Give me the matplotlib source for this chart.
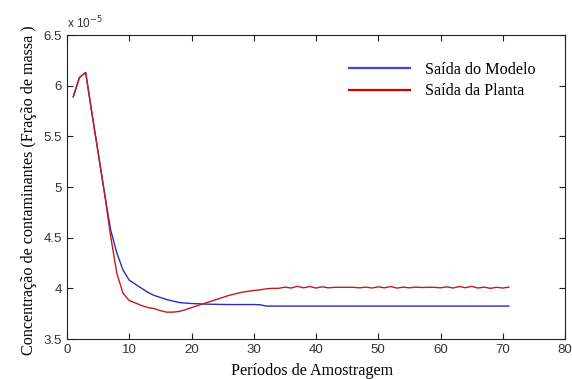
import matplotlib
matplotlib.use("Agg")
import matplotlib.pyplot as plt

periods = list(range(1, 72))

modelo = [5.89, 6.08, 6.13, 5.73, 5.34, 4.95, 4.58, 4.35, 4.18, 4.08,
          4.04, 4.00, 3.96, 3.93, 3.91, 3.89, 3.875, 3.86, 3.855, 3.85,
          3.848, 3.845, 3.843, 3.842, 3.841, 3.84, 3.84, 3.84, 3.84, 3.84,
          3.838] + [3.825] * 40

planta = [5.89, 6.08, 6.13, 5.73, 5.34, 4.95, 4.52, 4.15, 3.95, 3.88,
          3.855, 3.83, 3.81, 3.80, 3.78, 3.765, 3.765, 3.772, 3.788, 3.81,
          3.83, 3.85, 3.87, 3.89, 3.91, 3.93, 3.945, 3.96, 3.97, 3.978,
          3.985, 3.995, 4.0, 4.0, 4.012, 4.003, 4.02, 4.005, 4.018, 4.003,
          4.015, 4.005, 4.01, 4.01, 4.01, 4.01, 4.005, 4.012, 4.003, 4.015,
          4.005, 4.018, 4.002, 4.012, 4.005, 4.012, 4.008, 4.01, 4.01, 4.005,
          4.015, 4.003, 4.018, 4.006, 4.02, 4.003, 4.012, 4.0, 4.01, 4.003,
          4.012]

xticks = [0, 10, 20, 30, 40, 50, 60, 70, 80]
yticks = [3.5, 4, 4.5, 5, 5.5, 6, 6.5]
ytick_labels = ["3.5", "4", "4.5", "5", "5.5", "6", "6.5"]

W, H = 572, 379
fig = plt.figure(figsize=(W / 100, H / 100), dpi=100)
ax = fig.add_axes([67 / W, 1 - 339 / H, 498 / W, 304 / H])

ax.plot(periods, modelo, color="#2a30b0", lw=1.0, label="Saída do Modelo")
ax.plot(periods, planta, color="#c41a1a", lw=1.0, label="Saída da Planta")

ax.set_xlim(0, 80)
ax.set_ylim(3.5, 6.5)
ax.set_xticks(xticks)
ax.set_yticks(yticks)
ax.set_yticklabels(ytick_labels)
ax.tick_params(direction="in", length=4, width=0.8, top=True, right=True,
               labelsize=9.5, labelcolor="#333333", colors="#222222")
for lab in ax.get_xticklabels() + ax.get_yticklabels():
    lab.set_family("Liberation Sans")
for s in ax.spines.values():
    s.set_color("#222222")
    s.set_linewidth(0.8)

ax.text(0.0, 1.012, r"x 10$^{-5}$", transform=ax.transAxes, fontsize=8.5,
        family="Liberation Sans", color="#333333", va="bottom", ha="left")

fig.text(312 / W, 1 - 375 / H, "Períodos de Amostragem",
         family="Liberation Serif", fontsize=11.6, ha="center", va="baseline")
fig.text(33 / W, 1 - 190 / H, "Concentração de contaminantes (Fração de massa )",
         family="Liberation Serif", fontsize=11.6, rotation=90,
         rotation_mode="anchor", ha="center", va="baseline")

leg = ax.legend(loc="upper left", bbox_to_anchor=(349 / W, 1 - 62 / H),
                bbox_transform=fig.transFigure, frameon=False,
                borderaxespad=0, borderpad=0,
                prop={"family": "Liberation Serif", "size": 11.6},
                handlelength=3.8, handletextpad=0.92, labelspacing=0.32)
for h, c in zip(leg.get_lines(), ["#3a4ae8", "#d00000"]):
    h.set_color(c)
    h.set_linewidth(1.6)

fig.savefig("out.png", dpi=100)
